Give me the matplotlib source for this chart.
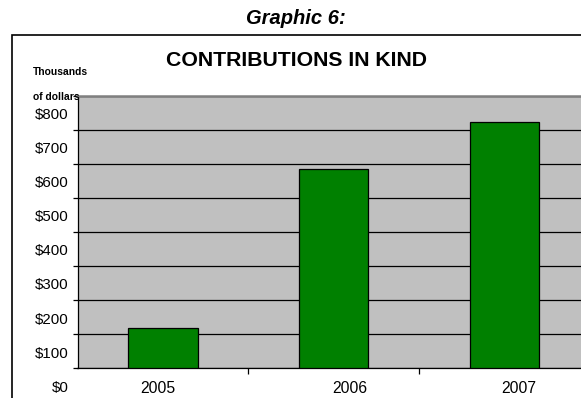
import matplotlib
matplotlib.use("Agg")
import matplotlib.pyplot as plt
from matplotlib.patches import Rectangle
from matplotlib.transforms import ScaledTranslation

plt.rcParams['font.family'] = ['Liberation Sans', 'DejaVu Sans']

# contributions in kind, thousands of dollars
years = ['2005', '2006', '2007']
amounts = [118, 585, 723]
y_ticks = [0, 100, 200, 300, 400, 500, 600, 700, 800]
y_labels = ['$0', '$100', '$200', '$300', '$400', '$500', '$600', '$700', '$800']

DPI = 100
fig = plt.figure(figsize=(5.81, 3.98), dpi=DPI)

# outer frame around the chart (runs off the right and bottom edges)
fig.patches.append(Rectangle((11.5 / 581, -0.05), 1.0, (398 - 35.3) / 398 + 0.05,
                             transform=fig.transFigure, fill=False,
                             edgecolor='black', linewidth=1.2))

fig.text(296 / 581, 1 - 18 / 398, 'Graphic 6:', ha='center', va='center',
         fontsize=14.5, fontweight='bold', fontstyle='italic')
fig.text(296 / 581, 1 - 61 / 398, 'CONTRIBUTIONS IN KIND', ha='center', va='center',
         fontsize=15.3, fontweight='bold')
fig.text(33 / 581, 1 - 72 / 398, 'Thousands', ha='left', va='center',
         fontsize=7.4, fontweight='bold')
fig.text(33 / 581, 1 - 97 / 398, 'of dollars', ha='left', va='center',
         fontsize=7.4, fontweight='bold')

ax = fig.add_axes([77.5 / 581, 29.7 / 398, 512.5 / 581, 272.8 / 398])
ax.set_facecolor('#C0C0C0')
x = range(len(years))
ax.bar(x, amounts, width=0.405, color='#008000', edgecolor='black', linewidth=0.9, zorder=3)

ax.set_xlim(-0.5, 2.5)
ax.set_ylim(0, 800)
ax.set_yticks(y_ticks)
ax.set_yticklabels(y_labels, fontsize=10.8)
ax.yaxis.grid(True, color='black', linewidth=0.9, zorder=1)
ax.set_axisbelow(True)
ax.tick_params(axis='y', length=3.5, width=0.9, pad=3)

ax.set_xticks(list(x))
ax.set_xticklabels(years, fontsize=11.3)
ax.set_xticks([0.5, 1.5], minor=True)
ax.tick_params(axis='x', which='major', length=0, pad=9)
ax.tick_params(axis='x', which='minor', length=4, width=0.9, direction='out')

for side in ['left', 'bottom']:
    ax.spines[side].set_color('black')
    ax.spines[side].set_linewidth(0.9)
ax.spines['top'].set_color('#808080')
ax.spines['top'].set_linewidth(1.8)
ax.spines['right'].set_color('#808080')

# value labels sit half a step below their gridlines
for lab in ax.get_yticklabels():
    lab.set_transform(lab.get_transform() + ScaledTranslation(0, -18 / DPI, fig.dpi_scale_trans))

# year labels are not centred under their bars
for lab, dx in zip(ax.get_xticklabels(), [-5, 16, 14]):
    lab.set_transform(lab.get_transform() + ScaledTranslation(dx / DPI, 0, fig.dpi_scale_trans))

fig.savefig('out.png', dpi=DPI)
